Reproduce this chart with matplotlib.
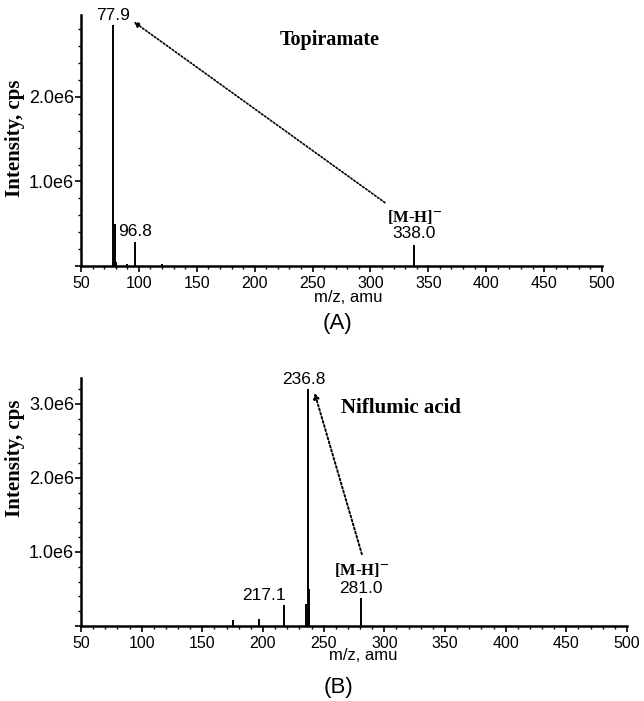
import numpy as np
import matplotlib
matplotlib.use("Agg")
import matplotlib.pyplot as plt
from matplotlib.ticker import MultipleLocator, FuncFormatter

plt.rcParams['font.family'] = ['Liberation Sans', 'DejaVu Sans']
plt.rcParams['mathtext.fontset'] = 'stix'

# Spectrum A - Topiramate (m/z, intensity in cps)
mz_a = [77.9, 79.0, 80.5, 90.0, 96.8, 120.0, 338.0]
int_a = [2.85e6, 0.50e6, 0.05e6, 0.02e6, 0.28e6, 0.02e6, 0.25e6]
labels_a = ["77.9", "96.8", "338.0"]

# Spectrum B - Niflumic acid
mz_b = [175.3, 196.7, 217.1, 235.8, 236.8, 237.8, 281.0]
int_b = [0.08e6, 0.10e6, 0.28e6, 0.30e6, 3.20e6, 0.50e6, 0.38e6]
labels_b = ["217.1", "236.8", "281.0"]

x_ticks = [50, 100, 150, 200, 250, 300, 350, 400, 450, 500]

fig = plt.figure(figsize=(6.44, 7.01), dpi=100)
ax1 = fig.add_axes([81/644, 1-266/701, 521/644, 251/701])
ax2 = fig.add_axes([81/644, 1-626/701, 546/644, 248/701])

serif_bold = dict(family='Liberation Serif', fontweight='bold')


def style(ax, ytop):
    ax.set_xlim(50, 500)
    ax.set_ylim(0, ytop)
    for s in ['top', 'right']:
        ax.spines[s].set_visible(False)
    ax.spines['left'].set_linewidth(1.8)
    ax.spines['bottom'].set_linewidth(1.8)
    ax.set_xticks(x_ticks)
    ax.xaxis.set_minor_locator(MultipleLocator(10))
    ax.yaxis.set_major_locator(MultipleLocator(1e6))
    ax.yaxis.set_minor_locator(MultipleLocator(0.2e6))
    ax.yaxis.set_major_formatter(FuncFormatter(lambda v, p: "" if v == 0 else f"{v/1e6:.1f}e6"))
    ax.tick_params(axis='both', which='major', length=4, width=1.2, direction='out')
    ax.tick_params(axis='both', which='minor', length=2.5, width=1)
    ax.tick_params(axis='x', pad=3, labelsize=11.5)
    ax.tick_params(axis='y', pad=1, labelsize=13)


# Panel A
ax1.vlines(mz_a, 0, int_a, color='black', lw=1.4)
style(ax1, 2.97e6)
ax1.text(mz_a[0], int_a[0] + 0.03e6, labels_a[0], ha='center', va='bottom', fontsize=12.5)
ax1.text(mz_a[4], int_a[4] + 0.04e6, labels_a[1], ha='center', va='bottom', fontsize=12.5)
ax1.text(mz_a[6], int_a[6] + 0.04e6, labels_a[2], ha='center', va='bottom', fontsize=12.5)
ax1.text(338.0, 0.47e6, r"[M-H]$^{\mathbf{-}}$", ha='center', va='bottom', fontsize=12, **serif_bold)
ax1.text(265, 2.68e6, "Topiramate", ha='center', va='center', fontsize=14.5, **serif_bold)
ax1.annotate("", xy=(95.5, 2.89e6), xytext=(312.5, 0.75e6),
             arrowprops=dict(arrowstyle='-|>', linestyle=(0, (1, 1.2)), lw=1.2,
                             color='black', mutation_scale=8, shrinkA=0, shrinkB=0))

# Panel B
ax2.vlines(mz_b, 0, int_b, color='black', lw=1.4)
style(ax2, 3.35e6)
ax2.text(mz_b[2] + 2, int_b[2] + 0.03e6, labels_b[0], ha='right', va='bottom', fontsize=12.5)
ax2.text(mz_b[4] - 3, int_b[4] + 0.03e6, labels_b[1], ha='center', va='bottom', fontsize=12.5)
ax2.text(mz_b[6], int_b[6] + 0.03e6, labels_b[2], ha='center', va='bottom', fontsize=12.5)
ax2.text(281.0, 0.64e6, r"[M-H]$^{\mathbf{-}}$", ha='center', va='bottom', fontsize=12, **serif_bold)
ax2.text(314, 2.94e6, "Niflumic acid", ha='center', va='center', fontsize=15, **serif_bold)
ax2.annotate("", xy=(242.5, 3.15e6), xytext=(281.5, 0.97e6),
             arrowprops=dict(arrowstyle='-|>', linestyle=(0, (1, 1.2)), lw=1.4,
                             color='black', mutation_scale=8, shrinkA=0, shrinkB=0))

# axis titles and panel letters
fig.text(15/644, 1-138/701, "Intensity, cps", rotation=90, ha='center', va='center', fontsize=15, **serif_bold)
fig.text(15/644, 1-458/701, "Intensity, cps", rotation=90, ha='center', va='center', fontsize=15, **serif_bold)
fig.text(348/644, 1-297/701, "m/z, amu", ha='center', va='center', fontsize=12)
fig.text(363/644, 1-655/701, "m/z, amu", ha='center', va='center', fontsize=12)
fig.text(337/644, 1-323/701, "(A)", ha='center', va='center', fontsize=16)
fig.text(338/644, 1-687/701, "(B)", ha='center', va='center', fontsize=16)

fig.savefig("out.png", dpi=100)
